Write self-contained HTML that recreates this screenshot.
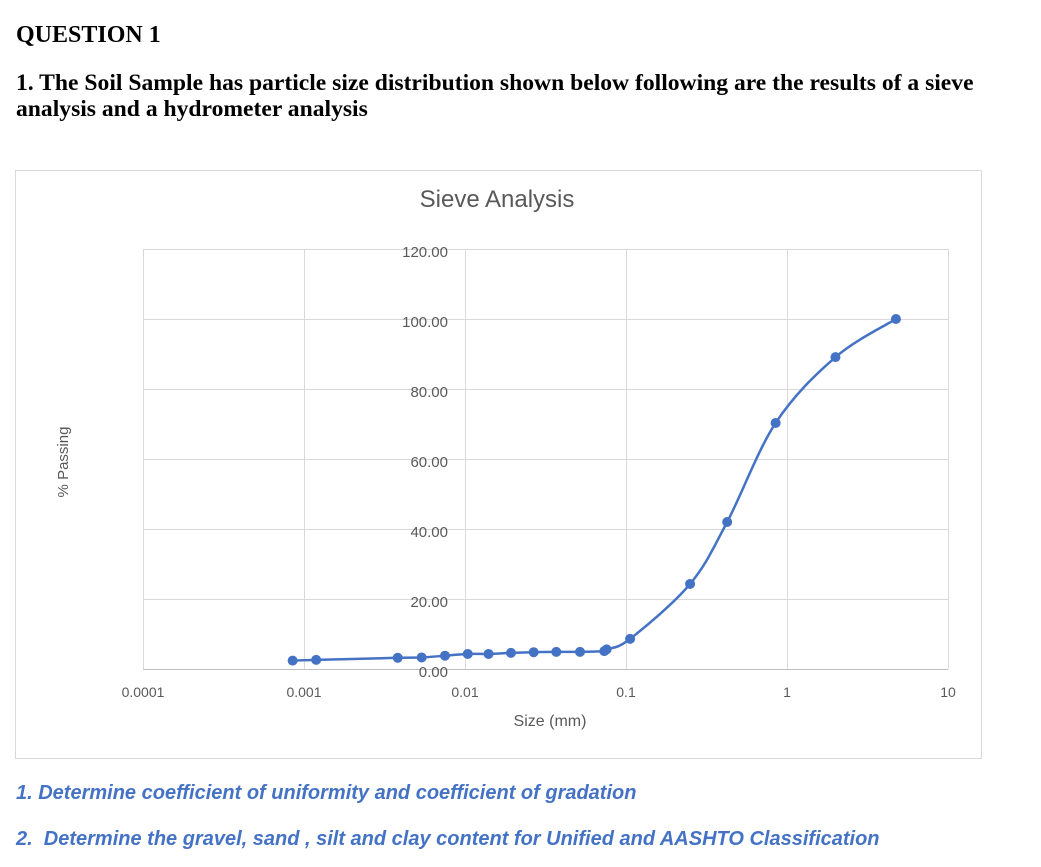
<!DOCTYPE html>
<html><head><meta charset="utf-8">
<style>
body{margin:0;background:#fff;width:1041px;height:867px;overflow:hidden;position:relative;font-family:"Liberation Serif",serif;}
.t{position:absolute;left:16px;margin:0;font-weight:bold;color:#000;white-space:nowrap;}
.q{position:absolute;left:16px;font-family:"Liberation Sans",sans-serif;font-style:italic;font-weight:bold;color:#4472C4;font-size:20px;white-space:nowrap;}
</style></head><body>
<div class="t" style="top:22px;font-size:24px;">QUESTION 1</div>
<div class="t" style="top:70px;font-size:23.6px;line-height:26px;">1. The Soil Sample has particle size distribution shown below following are the results of a sieve<br>analysis and a hydrometer analysis</div>
<svg style="position:absolute;left:0;top:0" width="1041" height="867">
<rect x="15.5" y="170.5" width="966" height="588" fill="#fff" stroke="#d9d9d9"/>
<text x="497" y="207" text-anchor="middle" font-family="Liberation Sans,sans-serif" font-size="24" fill="#595959">Sieve Analysis</text>
<text transform="translate(68,462) rotate(-90)" text-anchor="middle" font-family="Liberation Sans,sans-serif" font-size="15" fill="#595959">% Passing</text>
<text x="550" y="726" text-anchor="middle" font-family="Liberation Sans,sans-serif" font-size="16" fill="#595959">Size (mm)</text>
<g id="grid"></g><g id="series"></g>
</svg>
<div class="q" style="top:782px;">1. Determine coefficient of uniformity and coefficient of gradation</div>
<div class="q" style="top:828px;">2.&nbsp; Determine the gravel, sand , silt and clay content for Unified and AASHTO Classification</div>
<script>
const sizes=[0.00085,0.00119,0.00382,0.00538,0.00751,0.0104,0.014,0.0193,0.0267,0.0369,0.0518,0.0733,0.0758,0.106,0.25,0.425,0.85,2.0,4.75];
const passing=[2.4,2.6,3.2,3.3,3.8,4.3,4.3,4.6,4.8,4.9,4.9,5.1,5.6,8.6,24.3,42,70.3,89.1,100];
const xTicks=[0.0001,0.001,0.01,0.1,1,10];
const xTickLabels=["0.0001","0.001","0.01","0.1","1","10"];
const yTicks=[0,20,40,60,80,100,120];
const NS="http://www.w3.org/2000/svg";
const X0=143,DEC=161,Y0=669,PY=3.5;
function xs(v){return X0+(Math.log10(v)+4)*DEC;}
function ys(v){return Y0-v*PY;}
const grid=document.getElementById('grid'),ser=document.getElementById('series');
function mk(tag,attrs,parent){const e=document.createElementNS(NS,tag);for(const k in attrs)e.setAttribute(k,attrs[k]);parent.appendChild(e);return e;}
yTicks.forEach(v=>{
  const l=mk('line',{x1:X0,x2:xs(10),y1:ys(v)+0.5,y2:ys(v)+0.5,stroke:v===0?'#bfbfbf':'#d9d9d9'},grid);
  
  
  const t=mk('text',{x:448,y:ys(v)+8,'text-anchor':'end','font-family':'Liberation Sans,sans-serif','font-size':15,fill:'#595959'},grid);
  t.textContent=v.toFixed(2);
  
  
});
xTicks.forEach((v,i)=>{
  const l=mk('line',{x1:xs(v)+0.5,x2:xs(v)+0.5,y1:ys(120),y2:Y0,stroke:'#d9d9d9'},grid);
  
  
  const t=mk('text',{x:xs(v),y:697,'text-anchor':'middle','font-family':'Liberation Sans,sans-serif','font-size':14,fill:'#595959'},grid);
  t.textContent=xTickLabels[i];
  
  
});
const pts=sizes.map((s,i)=>[xs(s),ys(passing[i])]);
let d='M'+pts[0][0]+','+pts[0][1];
for(let i=0;i<pts.length-1;i++){
  const p0=pts[Math.max(0,i-1)],p1=pts[i],p2=pts[i+1],p3=pts[Math.min(pts.length-1,i+2)];
  const k=1/6;
  d+=' C'+(p1[0]+(p2[0]-p0[0])*k)+','+(p1[1]+(p2[1]-p0[1])*k)+' '+(p2[0]-(p3[0]-p1[0])*k)+','+(p2[1]-(p3[1]-p1[1])*k)+' '+p2[0]+','+p2[1];
}
const path=mk('path',{d:d,fill:'none',stroke:'#4472C4','stroke-width':2.5},ser);


pts.forEach(p=>{
  const c=mk('circle',{cx:p[0],cy:p[1],r:5,fill:'#4472C4'},ser);
  
  
});
</script>
</body></html>
